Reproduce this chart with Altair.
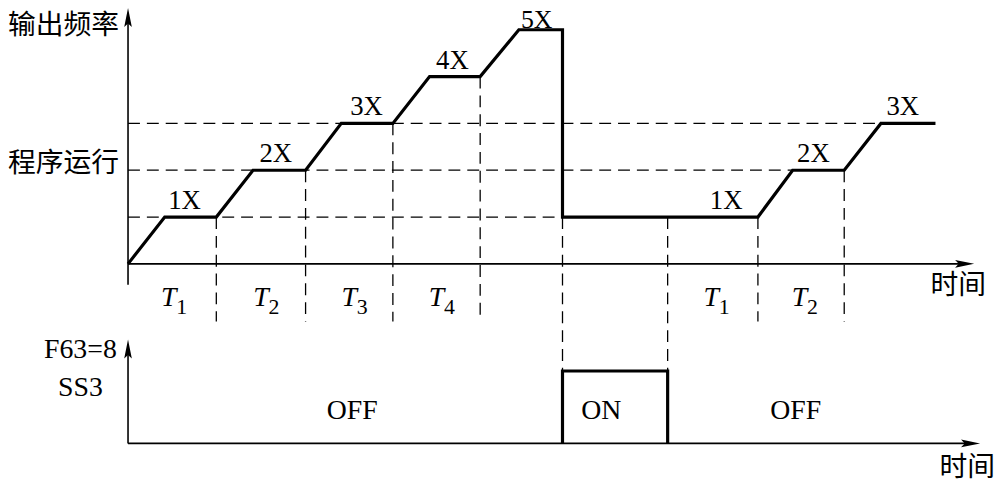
import altair as alt
import pandas as pd

# ---------------- data ----------------
# time in arbitrary units (0 = start), output frequency in multiples of X
curve_t = [0, 3.7, 8.9, 12.6, 17.9, 21.5, 26.7, 30.4, 35.5, 39.4, 43.8, 43.8, 63.5, 67.0, 72.2, 75.9, 81.4]
curve_f = [0, 1, 1, 2, 2, 3, 3, 4, 4, 5, 5, 1, 1, 2, 2, 3, 3]

# dashed reference levels (start at the y axis)
hdash_level = [1, 2, 3]
hdash_end_t = [43.8, 67.0, 75.9]

# dashed vertical markers
vdash_t = [8.9, 17.9, 26.7, 35.5, 43.8, 54.4, 63.5, 72.2]
vdash_top = [1, 2, 3, 4, 1, 1, 1, 2]
vdash_bottom = [-1.23, -1.23, -1.23, -1.23, -2.29, -2.29, -1.23, -1.23]

# speed step labels
speed_text = ["1X", "2X", "3X", "4X", "1X", "2X", "3X"]
speed_t = [5.7, 14.9, 24.05, 32.7, 60.3, 69.1, 78.1]
speed_f = [1, 2, 3, 4, 1, 2, 3]
peak_text = ["5X"]
peak_t = [41.2]
peak_f = [5]

# period labels T1..T4, T1, T2
period_sub = ["1", "2", "3", "4", "1", "2"]
period_t = [4.1, 13.4, 22.3, 31.1, 58.8, 67.7]
period_f = -0.72

# SS3 signal (0 = OFF, 1 = ON)
signal_t = [43.8, 43.8, 54.4, 54.4]
signal_s = [0, 1, 1, 0]
state_text = ["OFF", "ON", "OFF"]
state_t = [22.6, 47.7, 67.3]
state_s = 0.45

# axis extents
top_axis_t_end = 84.1
top_axis_f = [-0.445, 5.21]
bot_axis_t_end = 84.7
bot_axis_s_end = 1.27

# ---------------- scales ----------------
X = alt.Scale(domain=[0, 80], range=[121, 921], nice=False, zero=False)
YT = alt.Scale(domain=[0, 5], range=[256, 20], nice=False, zero=False)
YB = alt.Scale(domain=[0, 1], range=[437, 364], nice=False, zero=False)

SERIF = "Liberation Serif, Times New Roman, DejaVu Serif, serif"
CJK = "Noto Sans CJK SC"
ARROW = "M0,-1L0.32,0.6L0,0.3L-0.32,0.6Z"
DASH = [12, 7]

def xq(f="t"):
    return alt.X(f"{f}:Q", scale=X, axis=None)

def yt(f="f"):
    return alt.Y(f"{f}:Q", scale=YT, axis=None)

def yb(f="s"):
    return alt.Y(f"{f}:Q", scale=YB, axis=None)

# ---------------- top panel ----------------
hdash_df = pd.DataFrame({"t": [0] * len(hdash_level), "t2": hdash_end_t, "f": hdash_level})
hdash = alt.Chart(hdash_df).mark_rule(color="black", strokeWidth=1.3, strokeDash=DASH).encode(
    x=xq(), x2="t2:Q", y=yt())

vdash_df = pd.DataFrame({"t": vdash_t, "f": vdash_top, "f2": vdash_bottom})
vdash = alt.Chart(vdash_df).mark_rule(color="black", strokeWidth=1.3, strokeDash=DASH).encode(
    x=xq(), y=yt(), y2="f2:Q")

top_axes_df = pd.DataFrame({"t": [0, 0], "t2": [0, top_axis_t_end],
                            "f": [top_axis_f[0], 0], "f2": [top_axis_f[1], 0]})
top_axes = alt.Chart(top_axes_df).mark_rule(color="black", strokeWidth=1.6).encode(
    x=xq(), x2="t2:Q", y=yt(), y2="f2:Q")

top_arrow_df = pd.DataFrame({"t": [0, top_axis_t_end], "f": [top_axis_f[1], 0], "a": [0, 90]})
top_arrows = alt.Chart(top_arrow_df).mark_point(
    shape=ARROW, filled=True, color="black", size=576, opacity=1, strokeWidth=0).encode(
    x=xq(), y=yt(), angle=alt.Angle("a:Q", scale=None))

curve_df = pd.DataFrame({"t": curve_t, "f": curve_f, "i": list(range(len(curve_t)))})
curve = alt.Chart(curve_df).mark_line(color="black", strokeWidth=3.2, strokeJoin="miter").encode(
    x=xq(), y=yt(), order="i:Q")

speed_df = pd.DataFrame({"t": speed_t, "f": speed_f, "txt": speed_text})
speed = alt.Chart(speed_df).mark_text(font=SERIF, fontSize=27, baseline="alphabetic", dy=-8,
                                      color="black").encode(x=xq(), y=yt(), text="txt:N")
peak_df = pd.DataFrame({"t": peak_t, "f": peak_f, "txt": peak_text})
peak = alt.Chart(peak_df).mark_text(font=SERIF, fontSize=26, baseline="alphabetic", dy=-2,
                                    color="black").encode(x=xq(), y=yt(), text="txt:N")

period_df = pd.DataFrame({"t": period_t, "f": [period_f] * len(period_t),
                          "T": ["T"] * len(period_t), "sub": period_sub})
period_T = alt.Chart(period_df).mark_text(font=SERIF, fontSize=28, fontStyle="italic",
                                          baseline="middle", color="black").encode(
    x=xq(), y=yt(), text="T:N")
period_S = alt.Chart(period_df).mark_text(font=SERIF, fontSize=22, baseline="middle",
                                          dx=13, dy=10, color="black").encode(
    x=xq(), y=yt(), text="sub:N")

top_text_df = pd.DataFrame({"t": [-12.1, -12.1], "f": [5.08, 2.14], "txt": ["输出频率", "程序运行"]})
top_text = alt.Chart(top_text_df).mark_text(font=CJK, fontSize=28, align="left", baseline="middle",
                                            color="black").encode(x=xq(), y=yt(), text="txt:N")
time_top_df = pd.DataFrame({"t": [83.7], "f": [-0.47], "txt": ["时间"]})
time_top = alt.Chart(time_top_df).mark_text(font=CJK, fontSize=28, baseline="middle",
                                            color="black").encode(x=xq(), y=yt(), text="txt:N")

top = alt.layer(hdash, vdash, top_axes, top_arrows, curve, speed, peak, period_T, period_S,
                top_text, time_top)

# ---------------- bottom panel ----------------
bot_axes_df = pd.DataFrame({"t": [0, 0], "t2": [0, bot_axis_t_end],
                            "s": [0, 0], "s2": [bot_axis_s_end, 0]})
bot_axes = alt.Chart(bot_axes_df).mark_rule(color="black", strokeWidth=1.6).encode(
    x=xq(), x2="t2:Q", y=yb(), y2="s2:Q")

bot_arrow_df = pd.DataFrame({"t": [0, bot_axis_t_end], "s": [bot_axis_s_end, 0], "a": [0, 90]})
bot_arrows = alt.Chart(bot_arrow_df).mark_point(
    shape=ARROW, filled=True, color="black", size=576, opacity=1, strokeWidth=0).encode(
    x=xq(), y=yb(), angle=alt.Angle("a:Q", scale=None))

signal_df = pd.DataFrame({"t": signal_t, "s": signal_s, "i": list(range(len(signal_t)))})
signal = alt.Chart(signal_df).mark_line(color="black", strokeWidth=3.2, strokeJoin="miter").encode(
    x=xq(), y=yb(), order="i:Q")

state_df = pd.DataFrame({"t": state_t, "s": [state_s] * len(state_t), "txt": state_text})
states = alt.Chart(state_df).mark_text(font=SERIF, fontSize=28, baseline="middle",
                                       color="black").encode(x=xq(), y=yb(), text="txt:N")

bot_text_df = pd.DataFrame({"t": [-4.8, -4.8], "s": [1.29, 0.77], "txt": ["F63=8", "SS3"]})
bot_text = alt.Chart(bot_text_df).mark_text(font=SERIF, fontSize=28, baseline="middle",
                                            color="black").encode(x=xq(), y=yb(), text="txt:N")
time_bot_df = pd.DataFrame({"t": [84.6], "s": [-0.34], "txt": ["时间"]})
time_bot = alt.Chart(time_bot_df).mark_text(font=CJK, fontSize=28, baseline="middle",
                                            color="black").encode(x=xq(), y=yb(), text="txt:N")

bottom = alt.layer(bot_axes, bot_arrows, signal, states, bot_text, time_bot)

chart = alt.layer(top, bottom).resolve_scale(y="independent").properties(
    width=994, height=478, padding=0, autosize=alt.AutoSizeParams(type="none"),
    background="white",
).configure_view(stroke=None)

chart.save("out.html", embed_options={"renderer": "svg", "actions": False})
